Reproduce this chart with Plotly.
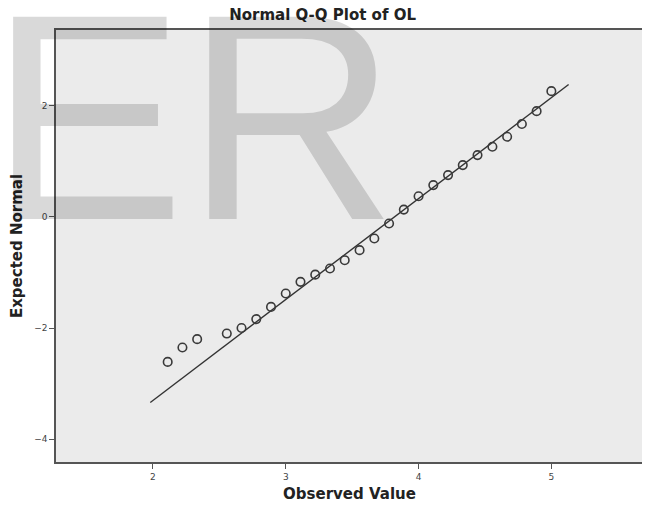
import plotly.graph_objects as go

# Observed values (OL scale means) and expected normal quantiles
observed = [2.111, 2.222, 2.333, 2.556, 2.667, 2.778, 2.889, 3.0, 3.111, 3.222,
            3.333, 3.444, 3.556, 3.667, 3.778, 3.889, 4.0, 4.111, 4.222, 4.333,
            4.444, 4.556, 4.667, 4.778, 4.889, 5.0]
expected = [-2.61, -2.35, -2.20, -2.10, -2.00, -1.84, -1.62, -1.38, -1.17, -1.04,
            -0.93, -0.78, -0.60, -0.39, -0.12, 0.13, 0.37, 0.57, 0.75, 0.93,
            1.11, 1.26, 1.44, 1.67, 1.90, 2.26]

# Reference line endpoints
line_x = [1.98, 5.13]
line_y = [-3.34, 2.38]

x_ticks = [2, 3, 4, 5]
y_ticks = [-4, -2, 0, 2]

TITLE_FONT = "DejaVu Sans, Verdana, sans-serif"

fig = go.Figure()
fig.add_trace(go.Scatter(x=line_x, y=line_y, mode="lines",
                         line=dict(color="#333333", width=1.4),
                         hoverinfo="skip", showlegend=False))
fig.add_trace(go.Scatter(x=observed, y=expected, mode="markers",
                         marker=dict(symbol="circle-open", size=8.5,
                                     color="#3a3a3a", line=dict(width=1.6)),
                         showlegend=False))

fig.add_annotation(text="ER", xref="paper", yref="paper",
                   x=-0.1173, y=0.798, xanchor="left", yanchor="middle",
                   showarrow=False,
                   font=dict(family="Liberation Sans, Arial, sans-serif",
                             size=294, color="rgba(0,0,0,0.15)"))

axis_common = dict(showline=True, linecolor="#555555", linewidth=1.5, mirror=True,
                   showgrid=False, zeroline=False, ticks="outside", ticklen=5,
                   tickcolor="#555555", tickwidth=1.2,
                   tickfont=dict(family="DejaVu Sans, sans-serif",
                                 size=9, color="#444444"))

# Page has an 8px body margin, so the figure is sized/margined to compensate.
fig.update_layout(
    width=642, height=502,
    margin=dict(l=47, r=5, t=22, b=48),
    paper_bgcolor="white",
    plot_bgcolor="#ebebeb",
    title=dict(text="<b>Normal Q-Q Plot of OL</b>", x=0.49, xanchor="center",
               y=0.986, yanchor="middle",
               font=dict(family=TITLE_FONT, size=15, color="#222222")),
    xaxis=dict(range=[1.27, 5.69], tickvals=x_ticks,
               title=dict(text="<b>Observed Value</b>", standoff=8,
                          font=dict(family=TITLE_FONT, size=15, color="#222222")),
               **axis_common),
    yaxis=dict(range=[-4.41, 3.36], tickvals=y_ticks,
               title=dict(text="<b>Expected Normal</b>", standoff=11,
                          font=dict(family=TITLE_FONT, size=15, color="#222222")),
               **axis_common),
)

fig.write_html("out.html")
